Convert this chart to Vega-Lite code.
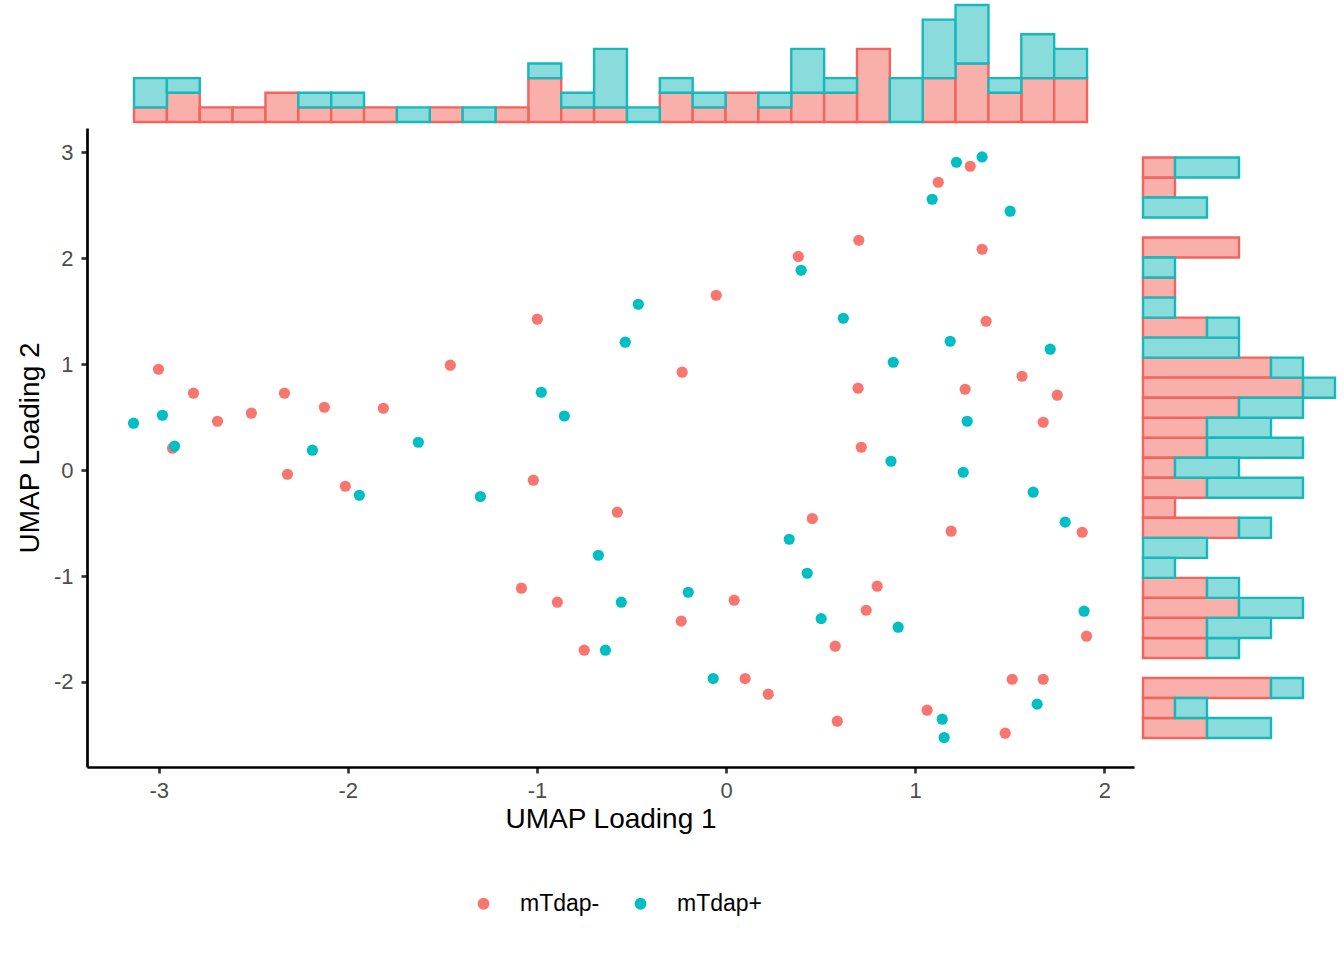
{
  "$schema": "https://vega.github.io/schema/vega-lite/v6.json",
  "padding": {"left": 16, "top": 0, "right": 0, "bottom": 0},
  "background": "white",
  "data": {
    "values": [
      {"x": -3.001, "y": 0.951, "g": "mTdap-"},
      {"x": -2.816, "y": 0.725, "g": "mTdap-"},
      {"x": -2.927, "y": 0.206, "g": "mTdap-"},
      {"x": -2.689, "y": 0.460, "g": "mTdap-"},
      {"x": -2.510, "y": 0.536, "g": "mTdap-"},
      {"x": -2.335, "y": 0.725, "g": "mTdap-"},
      {"x": -2.319, "y": -0.040, "g": "mTdap-"},
      {"x": -2.124, "y": 0.592, "g": "mTdap-"},
      {"x": -2.013, "y": -0.153, "g": "mTdap-"},
      {"x": -1.812, "y": 0.583, "g": "mTdap-"},
      {"x": -1.458, "y": 0.989, "g": "mTdap-"},
      {"x": -0.998, "y": 1.423, "g": "mTdap-"},
      {"x": -1.019, "y": -0.096, "g": "mTdap-"},
      {"x": -1.082, "y": -1.115, "g": "mTdap-"},
      {"x": -0.892, "y": -1.247, "g": "mTdap-"},
      {"x": -0.750, "y": -1.700, "g": "mTdap-"},
      {"x": -0.575, "y": -0.398, "g": "mTdap-"},
      {"x": -0.232, "y": 0.923, "g": "mTdap-"},
      {"x": -0.052, "y": 1.649, "g": "mTdap-"},
      {"x": -0.237, "y": -1.426, "g": "mTdap-"},
      {"x": 0.043, "y": -1.228, "g": "mTdap-"},
      {"x": 0.101, "y": -1.967, "g": "mTdap-"},
      {"x": 0.223, "y": -2.115, "g": "mTdap-"},
      {"x": 0.382, "y": 2.015, "g": "mTdap-"},
      {"x": 0.456, "y": -0.458, "g": "mTdap-"},
      {"x": 0.702, "y": 2.168, "g": "mTdap-"},
      {"x": 0.698, "y": 0.772, "g": "mTdap-"},
      {"x": 0.715, "y": 0.215, "g": "mTdap-"},
      {"x": 0.799, "y": -1.096, "g": "mTdap-"},
      {"x": 0.741, "y": -1.323, "g": "mTdap-"},
      {"x": 0.577, "y": -1.662, "g": "mTdap-"},
      {"x": 0.588, "y": -2.370, "g": "mTdap-"},
      {"x": 1.122, "y": 2.715, "g": "mTdap-"},
      {"x": 1.291, "y": 2.866, "g": "mTdap-"},
      {"x": 1.354, "y": 2.083, "g": "mTdap-"},
      {"x": 1.375, "y": 1.404, "g": "mTdap-"},
      {"x": 1.264, "y": 0.762, "g": "mTdap-"},
      {"x": 1.190, "y": -0.577, "g": "mTdap-"},
      {"x": 1.063, "y": -2.266, "g": "mTdap-"},
      {"x": 1.565, "y": 0.885, "g": "mTdap-"},
      {"x": 1.751, "y": 0.706, "g": "mTdap-"},
      {"x": 1.677, "y": 0.451, "g": "mTdap-"},
      {"x": 1.883, "y": -0.587, "g": "mTdap-"},
      {"x": 1.906, "y": -1.568, "g": "mTdap-"},
      {"x": 1.513, "y": -1.974, "g": "mTdap-"},
      {"x": 1.677, "y": -1.974, "g": "mTdap-"},
      {"x": 1.476, "y": -2.483, "g": "mTdap-"},
      {"x": -3.133, "y": 0.442, "g": "mTdap+"},
      {"x": -2.980, "y": 0.517, "g": "mTdap+"},
      {"x": -2.916, "y": 0.225, "g": "mTdap+"},
      {"x": -2.187, "y": 0.187, "g": "mTdap+"},
      {"x": -1.939, "y": -0.238, "g": "mTdap+"},
      {"x": -1.627, "y": 0.262, "g": "mTdap+"},
      {"x": -1.299, "y": -0.250, "g": "mTdap+"},
      {"x": -0.977, "y": 0.734, "g": "mTdap+"},
      {"x": -0.855, "y": 0.510, "g": "mTdap+"},
      {"x": -0.464, "y": 1.564, "g": "mTdap+"},
      {"x": -0.533, "y": 1.206, "g": "mTdap+"},
      {"x": -0.675, "y": -0.804, "g": "mTdap+"},
      {"x": -0.554, "y": -1.247, "g": "mTdap+"},
      {"x": -0.638, "y": -1.700, "g": "mTdap+"},
      {"x": -0.200, "y": -1.153, "g": "mTdap+"},
      {"x": -0.068, "y": -1.967, "g": "mTdap+"},
      {"x": 0.397, "y": 1.885, "g": "mTdap+"},
      {"x": 0.334, "y": -0.653, "g": "mTdap+"},
      {"x": 0.429, "y": -0.974, "g": "mTdap+"},
      {"x": 0.503, "y": -1.402, "g": "mTdap+"},
      {"x": 0.620, "y": 1.432, "g": "mTdap+"},
      {"x": 0.884, "y": 1.017, "g": "mTdap+"},
      {"x": 0.872, "y": 0.083, "g": "mTdap+"},
      {"x": 0.910, "y": -1.483, "g": "mTdap+"},
      {"x": 1.090, "y": 2.555, "g": "mTdap+"},
      {"x": 1.218, "y": 2.904, "g": "mTdap+"},
      {"x": 1.354, "y": 2.954, "g": "mTdap+"},
      {"x": 1.185, "y": 1.215, "g": "mTdap+"},
      {"x": 1.275, "y": 0.460, "g": "mTdap+"},
      {"x": 1.254, "y": -0.021, "g": "mTdap+"},
      {"x": 1.143, "y": -2.351, "g": "mTdap+"},
      {"x": 1.153, "y": -2.524, "g": "mTdap+"},
      {"x": 1.502, "y": 2.442, "g": "mTdap+"},
      {"x": 1.714, "y": 1.140, "g": "mTdap+"},
      {"x": 1.624, "y": -0.209, "g": "mTdap+"},
      {"x": 1.793, "y": -0.492, "g": "mTdap+"},
      {"x": 1.893, "y": -1.332, "g": "mTdap+"},
      {"x": 1.645, "y": -2.209, "g": "mTdap+"}
    ]
  },
  "vconcat": [
    {
      "width": 1047,
      "height": 122,
      "mark": {"type": "bar", "binSpacing": 0, "strokeWidth": 2.4},
      "encoding": {
        "x": {
          "field": "x", "type": "quantitative",
          "bin": {"extent": [-3.133, 1.906], "step": 0.173759, "nice": false},
          "scale": {"domain": [-3.379, 2.157], "nice": false, "zero": false},
          "axis": null
        },
        "y": {
          "aggregate": "count", "type": "quantitative",
          "scale": {"domain": [0, 8.34], "nice": false},
          "axis": null
        },
        "fill": {
          "field": "g", "type": "nominal", "sort": "descending",
          "scale": {"range": ["#F9AFAA", "#8ADBDC"]},
          "legend": null
        },
        "stroke": {
          "field": "g", "type": "nominal", "sort": "descending",
          "scale": {"range": ["#F2645D", "#17B8BC"]},
          "legend": null
        },
        "order": {"field": "g", "sort": "descending"}
      }
    },
    {
      "spacing": 7,
      "hconcat": [
        {
          "width": 1047,
          "height": 639,
          "mark": {"type": "circle", "size": 125, "opacity": 1},
          "encoding": {
            "x": {
              "field": "x", "type": "quantitative",
              "scale": {"domain": [-3.379, 2.157], "nice": false, "zero": false},
              "axis": {
                "title": "UMAP Loading 1",
                "values": [-3, -2, -1, 0, 1, 2],
                "labelExpr": "toString(datum.value)",
                "labelPadding": 7,
                "titlePadding": 4
              }
            },
            "y": {
              "field": "y", "type": "quantitative",
              "scale": {"domain": [-2.802, 3.227], "nice": false, "zero": false},
              "axis": {
                "title": "UMAP Loading 2",
                "values": [-2, -1, 0, 1, 2, 3],
                "labelExpr": "toString(datum.value)",
                "labelPadding": 8,
                "titlePadding": 9
              }
            },
            "color": {
              "field": "g", "type": "nominal",
              "scale": {"domain": ["mTdap-", "mTdap+"], "range": ["#F8766D", "#00BFC4"]},
              "legend": {
                "title": null,
                "orient": "none",
                "direction": "horizontal",
                "legendX": 385,
                "legendY": 892
              }
            }
          }
        },
        {
          "width": 200,
          "height": 639,
          "mark": {"type": "bar", "binSpacing": 0, "strokeWidth": 2.4},
          "encoding": {
            "y": {
              "field": "y", "type": "quantitative",
              "bin": {"extent": [-2.524, 2.954], "step": 0.188897, "nice": false},
              "scale": {"domain": [-2.802, 3.227], "nice": false, "zero": false},
              "axis": null
            },
            "x": {
              "aggregate": "count", "type": "quantitative",
              "scale": {"domain": [0, 6.25], "nice": false},
              "axis": null
            },
            "fill": {
              "field": "g", "type": "nominal", "sort": "descending",
              "scale": {"range": ["#F9AFAA", "#8ADBDC"]},
              "legend": null
            },
            "stroke": {
              "field": "g", "type": "nominal", "sort": "descending",
              "scale": {"range": ["#F2645D", "#17B8BC"]},
              "legend": null
            },
            "order": {"field": "g", "sort": "descending"}
          }
        }
      ]
    }
  ],
  "spacing": 4,
  "resolve": {"scale": {"x": "independent", "y": "independent"}},
  "config": {
    "font": "Liberation Sans",
    "view": {"stroke": null},
    "axis": {
      "grid": false,
      "domainColor": "black",
      "domainWidth": 2.7,
      "tickColor": "#333333",
      "tickWidth": 2.7,
      "tickSize": 6,
      "labelFont": "Liberation Sans",
      "labelFontSize": 22,
      "labelColor": "#4D4D4D",
      "labelFlush": false,
      "labelOverlap": false,
      "titleFont": "Liberation Sans",
      "titleFontSize": 28,
      "titleFontWeight": "normal",
      "titleColor": "black"
    },
    "legend": {
      "labelFont": "Liberation Sans",
      "labelFontSize": 23,
      "labelColor": "black",
      "symbolType": "circle",
      "symbolSize": 140,
      "symbolStrokeWidth": 0,
      "symbolOpacity": 1,
      "labelOffset": 25,
      "columnPadding": 29,
      "padding": 0
    }
  }
}
